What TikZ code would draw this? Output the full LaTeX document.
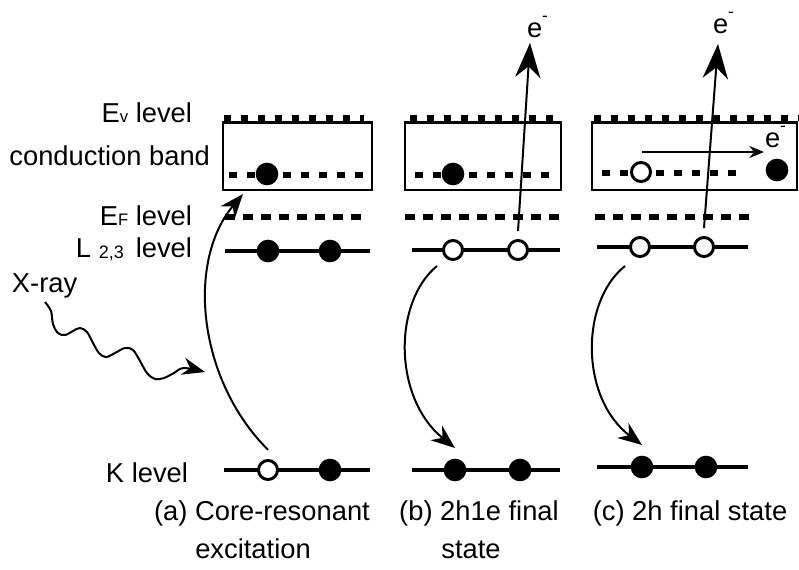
\documentclass[tikz,border=0pt]{standalone}
\usepackage{fontspec}
\setmainfont{Liberation Sans}
\usetikzlibrary{arrows.meta}
\newcommand{\smallsub}[1]{{\fontsize{12.5}{14}\selectfont #1}}
\newcommand{\elec}{e\raisebox{1.1ex}{\fontsize{13}{14}\selectfont -}}
\begin{document}
\begin{tikzpicture}[x=0.75pt,y=-0.75pt,
  lbl/.style={font=\fontsize{20.5}{24}\selectfont, inner sep=0pt, outer sep=0pt},
  lvl/.style={line width=3.2pt},
  fdot/.style={circle, fill=black, inner sep=0pt, outer sep=0pt, minimum size=17pt},
  odot/.style={circle, draw=black, fill=white, line width=2.2pt, inner sep=0pt, outer sep=0pt, minimum size=14.3pt},
  evl/.style={line width=4.6pt, dash pattern=on 5.25pt off 7.5pt},
  cbl/.style={line width=4.5pt, dash pattern=on 6pt off 7.5pt},
  efl/.style={line width=4.5pt, dash pattern=on 7.5pt off 6pt},
  bandbox/.style={line width=1.6pt},
  eup/.style={line width=1.5pt, -{Stealth[length=26pt,width=19pt]}},
  carr/.style={line width=1.5pt, -{Stealth[length=18pt,width=14pt]}},
  harr/.style={line width=1.4pt, -{Stealth[length=11pt,width=9pt]}},
  xarr/.style={line width=1.5pt, -{Stealth[length=17pt,width=13pt]}}
]
\useasboundingbox (0,0) rectangle (799,569);

% ---------- level labels ----------
\node[lbl, anchor=base east] (t-ev) at (192,122) {E\smallsub{v} level};
\node[lbl, anchor=base east] (t-cb) at (210,165) {conduction band};
\node[lbl, anchor=base east] (t-ef) at (192,225) {E\smallsub{F} level};
\node[lbl, anchor=base east] (t-l) at (192,257) {L \raisebox{-1pt}{\fontsize{13.5}{14}\selectfont 2,3}\hspace{9pt}level};
\node[lbl, anchor=base east] (t-k) at (188,482) {K level};
\node[lbl, anchor=base west] (t-x) at (12,292) {X-ray};

% ---------- captions ----------
\node[lbl, anchor=base] (cap-a1) at (262,520) {(a) Core-resonant};
\node[lbl, anchor=base] (cap-a2) at (253,558) {excitation};
\node[lbl, anchor=base] (cap-b1) at (479,520) {(b) 2h1e final};
\node[lbl, anchor=base] (cap-b2) at (471,558) {state};
\node[lbl, anchor=base] (cap-c1) at (690,520) {(c) 2h final state};

% ---------- panel (a) ----------
\draw[evl] (224,118) -- (364,118);
\draw[bandbox] (223,122.5) rectangle (372,190);
\draw[cbl] (229,175) -- (367,175);
\draw[efl] (225,217) -- (362,217);
\draw[lvl] (225,251) -- (370,251);
\draw[lvl] (224,470) -- (370,470);
\node[fdot] (a-C) at (267,174) {};
\node[fdot] (a-L1) at (268,251) {};
\node[fdot] (a-L2) at (330,251) {};
\node[odot] (a-K1) at (268,470) {};
\node[fdot] (a-K2) at (330,470) {};
\coordinate (a-tip) at (243,194);
\draw[carr] ([yshift=8pt]a-K1.north) .. controls (198,380) and (186,262) .. (a-tip);

% X-ray photon
\coordinate (x-start) at (45,302);
\coordinate (x-tip) at (205,372);
\draw[xarr, line join=round] plot[smooth, tension=0.6] coordinates {
  (45,302) (51,311) (53,324) (58,333) (65,335) (73,331) (80,328) (87,332)
  (93,343) (99,353) (106,357) (115,353) (125,348) (133,350) (140,361)
  (147,373) (155,379) (164,378) (174,373) (184,368) (205,372)};

% ---------- panel (b) ----------
\draw[evl] (410,118) -- (562,118);
\draw[bandbox] (405,122.5) rectangle (561,190);
\draw[cbl] (415,175) -- (556,175);
\draw[efl] (405,217) -- (562,217);
\draw[lvl] (412,250) -- (560,250);
\draw[lvl] (412,470) -- (560,470);
\node[fdot] (b-C) at (453,174) {};
\node[odot] (b-L1) at (453,250) {};
\node[odot] (b-L2) at (518,250) {};
\node[fdot] (b-K1) at (455,470) {};
\node[fdot] (b-K2) at (520,470) {};
\node[lbl, anchor=base west] (b-e) at (527,37) {\elec};
\coordinate (b-up) at (530,43);
\draw[eup] ([yshift=7pt]b-L2.north) -- (b-up);
\coordinate (b-from) at (437,266);
\draw[carr] (b-from) .. controls (393,302) and (393,398) .. ([yshift=8pt]b-K1.north);

% ---------- panel (c) ----------
\draw[evl] (594,118) -- (800,118);
\draw[bandbox] (592,122.5) rectangle (797,190);
\draw[cbl] (602,173) -- (740,173);
\draw[efl] (595,217) -- (750,217);
\draw[lvl] (597,247) -- (748,247);
\draw[lvl] (597,467) -- (748,467);
\node[odot] (c-C) at (641,172) {};
\node[fdot] (c-E) at (777,170) {};
\node[odot] (c-L1) at (640,247) {};
\node[odot] (c-L2) at (704,247) {};
\node[fdot] (c-K1) at (642,467) {};
\node[fdot] (c-K2) at (706,467) {};
\node[lbl, anchor=base west] (c-e1) at (713,33) {\elec};
\node[lbl, anchor=base west] (c-e2) at (765,147) {\elec};
\coordinate (c-up) at (718,44);
\draw[eup] ([yshift=7pt]c-L2.north) -- (c-up);
\coordinate (c-hfrom) at (642,152);
\coordinate (c-hto) at (764,152);
\draw[harr] (c-hfrom) -- (c-hto);
\coordinate (c-from) at (625,266);
\draw[carr] (c-from) .. controls (580,302) and (580,398) .. ([yshift=8pt]c-K1.north);
\end{tikzpicture}
\end{document}
